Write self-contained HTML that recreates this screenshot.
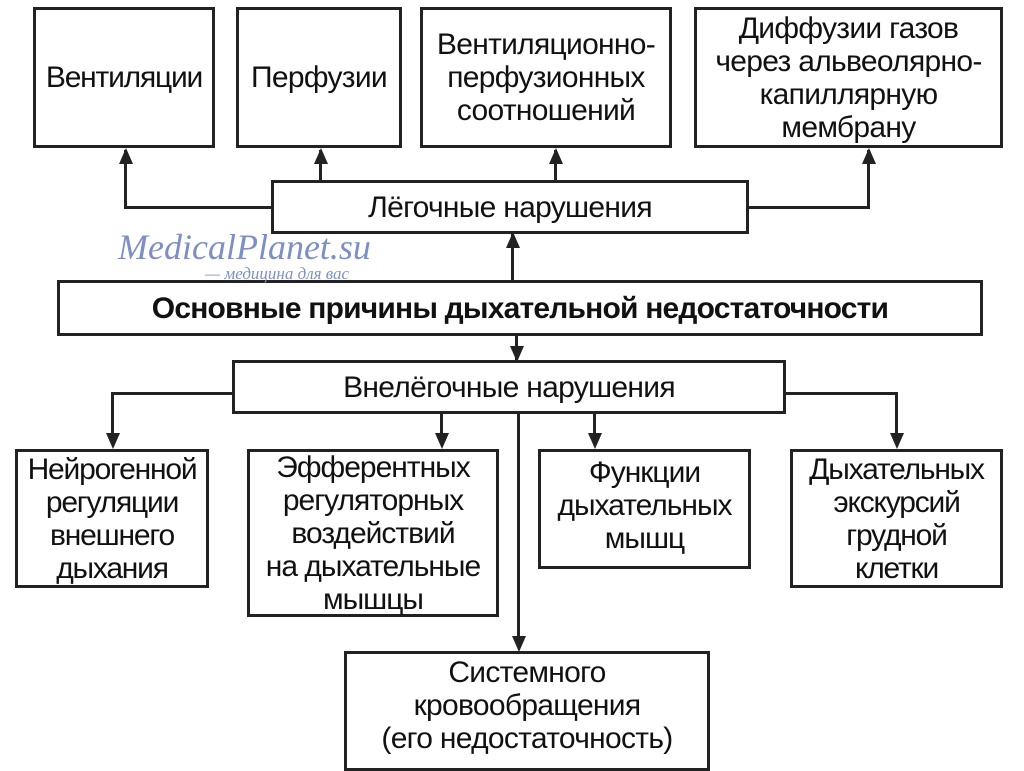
<!DOCTYPE html>
<html><head><meta charset="utf-8"><style>
html,body{margin:0;padding:0;background:#fff;}
body{width:1024px;height:767px;position:relative;overflow:hidden;font-family:"Liberation Sans",sans-serif;color:#111;}
.b{position:absolute;border:3px solid #222;box-sizing:border-box;display:flex;align-items:center;justify-content:center;text-align:center;font-size:30px;line-height:33px;letter-spacing:-0.7px;background:#fff;white-space:nowrap;}
.l{position:absolute;background:#222;}
.au{position:absolute;width:0;height:0;border-left:7px solid transparent;border-right:7px solid transparent;border-bottom:16px solid #222;}
.ad{position:absolute;width:0;height:0;border-left:7px solid transparent;border-right:7px solid transparent;border-top:16px solid #222;}
.wm{position:absolute;font-family:"Liberation Serif",serif;font-style:italic;color:#7d8fc4;}
</style></head><body>
<div class="l" style="left:124px;top:150px;width:3px;height:58px"></div>
<div class="l" style="left:124px;top:206px;width:150px;height:3px"></div>
<div class="l" style="left:319px;top:150px;width:3px;height:32px"></div>
<div class="l" style="left:554px;top:150px;width:3px;height:32px"></div>
<div class="l" style="left:867px;top:150px;width:3px;height:58px"></div>
<div class="l" style="left:746px;top:206px;width:124px;height:3px"></div>
<div class="l" style="left:511px;top:234px;width:3px;height:48px"></div>
<div class="l" style="left:515px;top:334px;width:3px;height:28px"></div>
<div class="l" style="left:111px;top:392px;width:123px;height:3px"></div>
<div class="l" style="left:111px;top:392px;width:3px;height:45px"></div>
<div class="l" style="left:783px;top:392px;width:115px;height:3px"></div>
<div class="l" style="left:895px;top:392px;width:3px;height:45px"></div>
<div class="l" style="left:440px;top:412px;width:3px;height:25px"></div>
<div class="l" style="left:593px;top:412px;width:3px;height:25px"></div>
<div class="l" style="left:517px;top:412px;width:3px;height:228px"></div>
<div class="au" style="left:119px;top:148px"></div>
<div class="au" style="left:314px;top:148px"></div>
<div class="au" style="left:549px;top:148px"></div>
<div class="au" style="left:862px;top:148px"></div>
<div class="au" style="left:506px;top:232px"></div>
<div class="ad" style="left:510px;top:346px"></div>
<div class="ad" style="left:106px;top:433px"></div>
<div class="ad" style="left:435px;top:433px"></div>
<div class="ad" style="left:588px;top:433px"></div>
<div class="ad" style="left:890px;top:433px"></div>
<div class="ad" style="left:512px;top:636px"></div>
<div class="b" style="left:33px;top:7px;width:182px;height:141px;letter-spacing:-1.2px">Вентиляции</div>
<div class="b" style="left:236px;top:7px;width:166px;height:141px">Перфузии</div>
<div class="b" style="left:420px;top:7px;width:252px;height:141px">Вентиляционно-<br>перфузионных<br>соотношений</div>
<div class="b" style="left:694px;top:7px;width:309px;height:141px">Диффузии газов<br>через альвеолярно-<br>капиллярную<br>мембрану</div>
<div class="b" style="left:271px;top:180px;width:478px;height:54px">Лёгочные нарушения</div>
<div class="b" style="left:57px;top:280px;width:926px;height:56px;font-weight:bold;letter-spacing:-0.8px">Основные причины дыхательной недостаточности</div>
<div class="b" style="left:232px;top:360px;width:554px;height:54px">Внелёгочные нарушения</div>
<div class="b" style="left:15px;top:449px;width:194px;height:139px;letter-spacing:-1.2px">Нейрогенной<br>регуляции<br>внешнего<br>дыхания</div>
<div class="b" style="left:247px;top:449px;width:252px;height:168px;letter-spacing:-1px">Эфферентных<br>регуляторных<br>воздействий<br>на дыхательные<br>мышцы</div>
<div class="b" style="left:538px;top:449px;width:213px;height:120px;align-items:flex-start;padding-top:4px;letter-spacing:-1px">Функции<br>дыхательных<br>мышц</div>
<div class="b" style="left:790px;top:449px;width:213px;height:139px;letter-spacing:-1.2px">Дыхательных<br>экскурсий<br>грудной<br>клетки</div>
<div class="b" style="left:344px;top:651px;width:366px;height:120px;align-items:flex-start;padding-top:2px">Системного<br>кровообращения<br>(его недостаточность)</div>
<div class="wm" style="left:118px;top:226px;font-size:36px">MedicalPlanet.su</div>
<div class="wm" style="left:205px;top:264px;font-size:17px">— медицина для вас</div>
</body></html>
